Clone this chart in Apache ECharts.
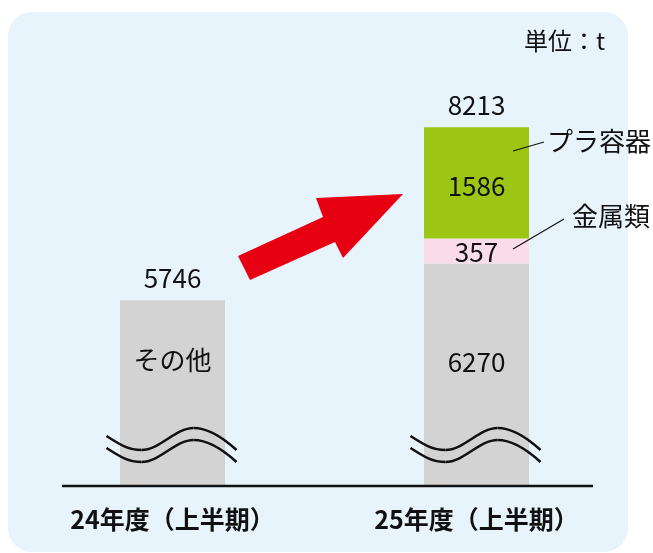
<!DOCTYPE html>
<html>
<head>
<meta charset="utf-8">
<script src="https://cdn.jsdelivr.net/npm/echarts@6/dist/echarts.min.js"></script>
<style>
  html, body { margin: 0; padding: 0; background: #fff; }
  #chart { width: 653px; height: 553px; }
</style>
</head>
<body>
<div id="chart"></div>
<script>
const categories = ["24年度（上半期）", "25年度（上半期）"];
const otherValues = [5746, 6270];
const metalValues = ["-", 357];
const plasticValues = ["-", 1586];
const totals = [5746, 8213];
// text shown inside the gray bars (null = show the value)
const otherLabels = ["その他", null];
// gray labels sit above the break marks, not in the middle of the visible bar
const otherLabelShift = [-33, -13];

const FONT = '"Noto Sans CJK JP", "Noto Sans", sans-serif';

const chart = echarts.init(document.getElementById("chart"));

const valueLabel = {
  show: true,
  position: "inside",
  fontSize: 26,
  color: "#111",
  fontFamily: FONT,
};

const options = {
  backgroundColor: "#ffffff",
  animation: false,
  textStyle: { fontFamily: FONT },
  grid: { left: 20.5, right: 24.5, top: 100, bottom: 67 },
  xAxis: {
    type: "category",
    data: categories,
    axisLine: { show: false },
    axisTick: { show: false },
    axisLabel: {
      margin: 21,
      fontSize: 25,
      fontWeight: "bold",
      color: "#111",
      fontFamily: FONT,
    },
  },
  yAxis: {
    type: "value",
    min: 3100,
    max: 8600,
    show: false,
    splitLine: { show: false },
  },
  series: [
    {
      name: "その他",
      type: "bar",
      stack: "total",
      barWidth: 105,
      data: otherValues.map((v, i) => ({
        value: v,
        label: { offset: [0, otherLabelShift[i]] },
      })),
      itemStyle: { color: "#d3d3d3" },
      label: {
        ...valueLabel,
        formatter: (p) => otherLabels[p.dataIndex] || String(p.value),
      },
    },
    {
      name: "金属類",
      type: "bar",
      stack: "total",
      data: metalValues,
      itemStyle: { color: "#fadbe8" },
      label: { ...valueLabel, offset: [0, 1] },
    },
    {
      name: "プラ容器",
      type: "bar",
      stack: "total",
      data: plasticValues,
      itemStyle: { color: "#9dc614" },
      label: { ...valueLabel, offset: [0, 3] },
    },
    {
      // totals above each bar
      name: "合計",
      type: "line",
      data: totals,
      symbol: "circle",
      symbolSize: 1,
      showSymbol: true,
      itemStyle: { color: "rgba(0,0,0,0)" },
      lineStyle: { opacity: 0 },
      z: 5,
      label: {
        ...valueLabel,
        position: "top",
        distance: 9,
      },
    },
  ],
};

chart.setOption(options);

// decorations: panel, axis line, break marks, arrow, callouts
function waveSegments(c, y) {
  return [
    { x1: c - 66, y1: y, cpx1: c - 52, cpy1: y + 9, cpx2: c - 44, cpy2: y + 14, x2: c - 31, y2: y + 14 },
    { x1: c - 31, y1: y + 14, cpx1: c - 13, cpy1: y + 14, cpx2: c + 3, cpy2: y - 8, x2: c + 21, y2: y - 8 },
    { x1: c + 21, y1: y - 8, cpx1: c + 37, cpy1: y - 8, cpx2: c + 52, cpy2: y + 3, x2: c + 64, y2: y + 14 },
  ];
}

const graphics = [
  {
    type: "rect",
    z: -10,
    shape: { x: 8, y: 12, width: 620, height: 540, r: 24 },
    style: { fill: "#e8f4fc" },
  },
  {
    type: "line",
    z: 10,
    shape: { x1: 62, y1: 486, x2: 593, y2: 486 },
    style: { stroke: "#111", lineWidth: 2.5 },
  },
  {
    type: "text",
    z: 10,
    style: {
      text: "単位：t",
      x: 605,
      y: 41,
      align: "right",
      verticalAlign: "middle",
      fontSize: 24,
      fill: "#111",
      fontFamily: FONT,
    },
  },
  {
    type: "polygon",
    z: 10,
    shape: {
      points: [[250, 280], [238, 256], [323, 217], [316, 198], [403, 194], [343, 258], [335, 242]],
    },
    style: { fill: "#e60012" },
  },
  {
    type: "line",
    z: 10,
    shape: { x1: 513, y1: 151, x2: 544, y2: 142 },
    style: { stroke: "#111", lineWidth: 1.2 },
  },
  {
    type: "text",
    z: 10,
    style: {
      text: "プラ容器",
      x: 547,
      y: 141,
      verticalAlign: "middle",
      fontSize: 26,
      fill: "#111",
      fontFamily: FONT,
    },
  },
  {
    type: "line",
    z: 10,
    shape: { x1: 513, y1: 249, x2: 564, y2: 219 },
    style: { stroke: "#111", lineWidth: 1.2 },
  },
  {
    type: "text",
    z: 10,
    style: {
      text: "金属類",
      x: 572,
      y: 216,
      verticalAlign: "middle",
      fontSize: 26,
      fill: "#111",
      fontFamily: FONT,
    },
  },
];

categories.forEach((cat, i) => {
  const c = chart.convertToPixel({ xAxisIndex: 0 }, i);
  [436, 448].forEach((y) => {
    waveSegments(c, y).forEach((seg) => {
      graphics.push({
        type: "bezierCurve",
        z: 10,
        shape: seg,
        style: { stroke: "#111", lineWidth: 2.5, fill: null },
      });
    });
  });
});

chart.setOption({ graphic: graphics });
</script>
</body>
</html>
